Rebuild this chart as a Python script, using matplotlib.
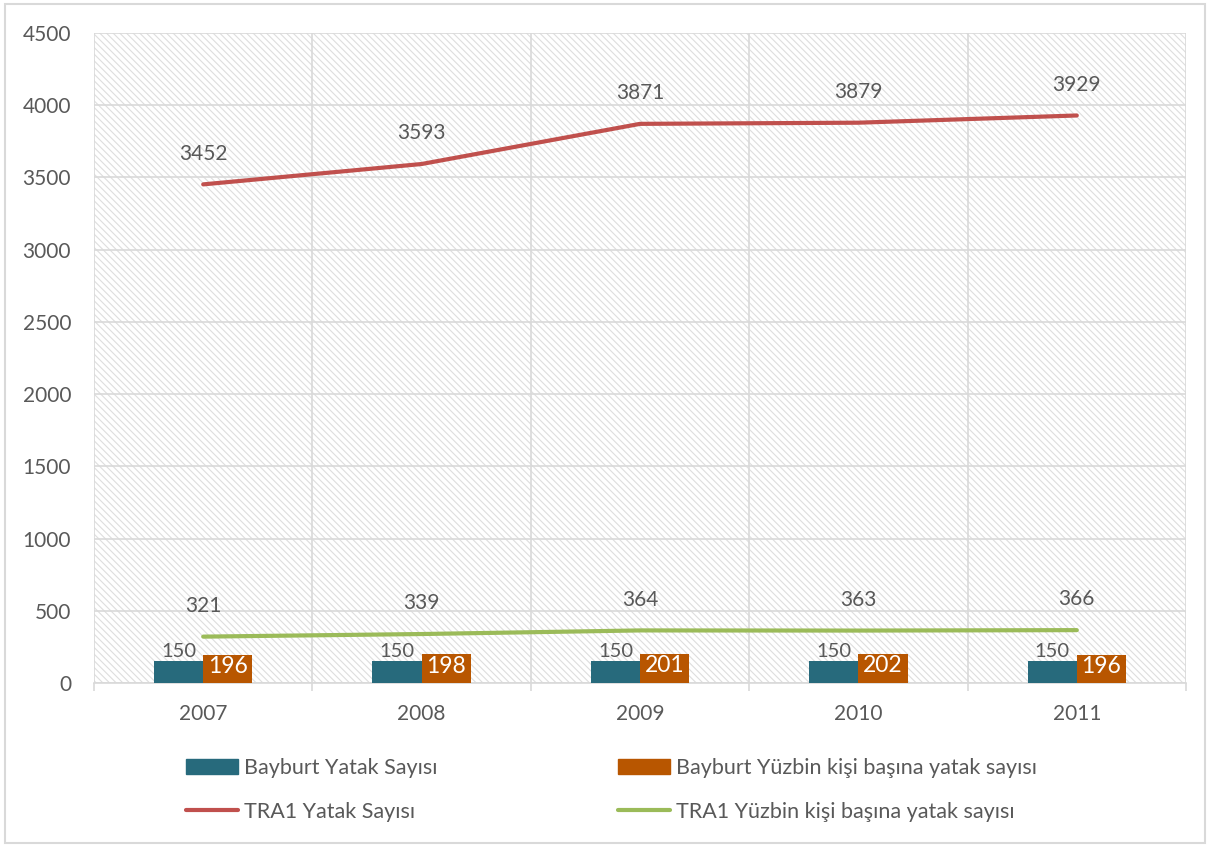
import numpy as np
import matplotlib
matplotlib.use('Agg')
import matplotlib.pyplot as plt
from matplotlib.patches import Rectangle, Patch
from matplotlib.lines import Line2D

plt.rcParams['font.family'] = ['Lato', 'DejaVu Sans']
plt.rcParams['hatch.linewidth'] = 0.8

# veriler
years = ['2007', '2008', '2009', '2010', '2011']
bayburt_yatak = [150, 150, 150, 150, 150]
bayburt_yuzbin = [196, 198, 201, 202, 196]
tra1_yatak = [3452, 3593, 3871, 3879, 3929]
tra1_yuzbin = [321, 339, 364, 363, 366]

c_teal = '#276A7C'
c_orange = '#B85600'
c_red = '#C0504D'
c_green = '#9BBB59'
c_text = '#595959'
c_grid = '#D9D9D9'

fig = plt.figure(figsize=(12.11, 8.47), dpi=100)
ax = fig.add_axes([94 / 1211, 1 - 683 / 847, 1092 / 1211, 650 / 847])

# dis cerceve
fig.patches.append(Rectangle((5 / 1211, 4 / 847), 1200 / 1211, 839 / 847,
                             transform=fig.transFigure, fill=False,
                             edgecolor=c_grid, linewidth=1.5))

# tarali arka plan
ax.add_patch(Rectangle((0, 0), 1, 1, transform=ax.transAxes, facecolor='white',
                       edgecolor='#DEDEDE', hatch='\\\\\\\\\\', linewidth=0, zorder=0))

x = np.arange(len(years))
w = 0.225
ax.bar(x - w / 2, bayburt_yatak, w, color=c_teal, zorder=3)
ax.bar(x + w / 2, bayburt_yuzbin, w, color=c_orange, zorder=3)
ax.plot(x, tra1_yatak, color=c_red, linewidth=3, zorder=4, solid_capstyle='round')
ax.plot(x, tra1_yuzbin, color=c_green, linewidth=3, zorder=4, solid_capstyle='round')

fs = 15
for xi, v in zip(x, bayburt_yatak):
    ax.annotate(str(v), (xi - w / 2, v), xytext=(0, 1), textcoords='offset points',
                ha='center', va='bottom', fontsize=fs - 0.5, color=c_text, zorder=5)
for xi, v in zip(x, bayburt_yuzbin):
    ax.annotate(str(v), (xi + w / 2, v), xytext=(0, -1), textcoords='offset points',
                ha='center', va='top', fontsize=fs + 1.5, color='white', zorder=5)
for xi, v in zip(x, tra1_yatak):
    ax.annotate(str(v), (xi, v), xytext=(0, 15), textcoords='offset points',
                ha='center', va='bottom', fontsize=fs, color=c_text, zorder=5)
for xi, v in zip(x, tra1_yuzbin):
    ax.annotate(str(v), (xi, v), xytext=(0, 15), textcoords='offset points',
                ha='center', va='bottom', fontsize=fs, color=c_text, zorder=5)

ax.set_xlim(-0.5, 4.5)
ax.set_ylim(0, 4500)
ax.set_yticks(np.arange(0, 4501, 500))
ax.set_xticks(x)
ax.set_xticklabels(years)
ax.set_xticks(np.arange(-0.5, 5, 1), minor=True)
ax.tick_params(axis='x', which='major', length=0, pad=15, labelsize=fs, labelcolor=c_text)
ax.tick_params(axis='x', which='minor', length=6, color=c_grid, width=1.2)
ax.tick_params(axis='y', length=0, pad=16.5, labelsize=fs, labelcolor=c_text)
ax.grid(axis='y', which='major', color=c_grid, linewidth=1.2, zorder=1)
ax.grid(axis='x', which='minor', color=c_grid, linewidth=1.2, zorder=1)
ax.set_axisbelow(True)
for s in ['top', 'right', 'left']:
    ax.spines[s].set_visible(False)
ax.spines['bottom'].set_color(c_grid)
ax.spines['bottom'].set_linewidth(1.2)

# lejant
h1 = [Patch(color=c_teal), Line2D([], [], color=c_red, linewidth=3, solid_capstyle='round')]
h2 = [Patch(color=c_orange), Line2D([], [], color=c_green, linewidth=3, solid_capstyle='round')]
kw = dict(frameon=False, fontsize=15.5, labelcolor=c_text, handlelength=2.4,
          handleheight=0.7, handletextpad=0.3, labelspacing=1.1, loc='upper left',
          borderaxespad=0, borderpad=0)
fig.legend(h1, ['Bayburt Yatak Sayısı', 'TRA1 Yatak Sayısı'],
           bbox_to_anchor=(186 / 1211, 1 - 758 / 847), **kw)
fig.legend(h2, ['Bayburt Yüzbin kişi başına yatak sayısı',
                'TRA1 Yüzbin kişi başına yatak sayısı'],
           bbox_to_anchor=(618 / 1211, 1 - 758 / 847), **kw)

fig.savefig('out.png', dpi=100)
